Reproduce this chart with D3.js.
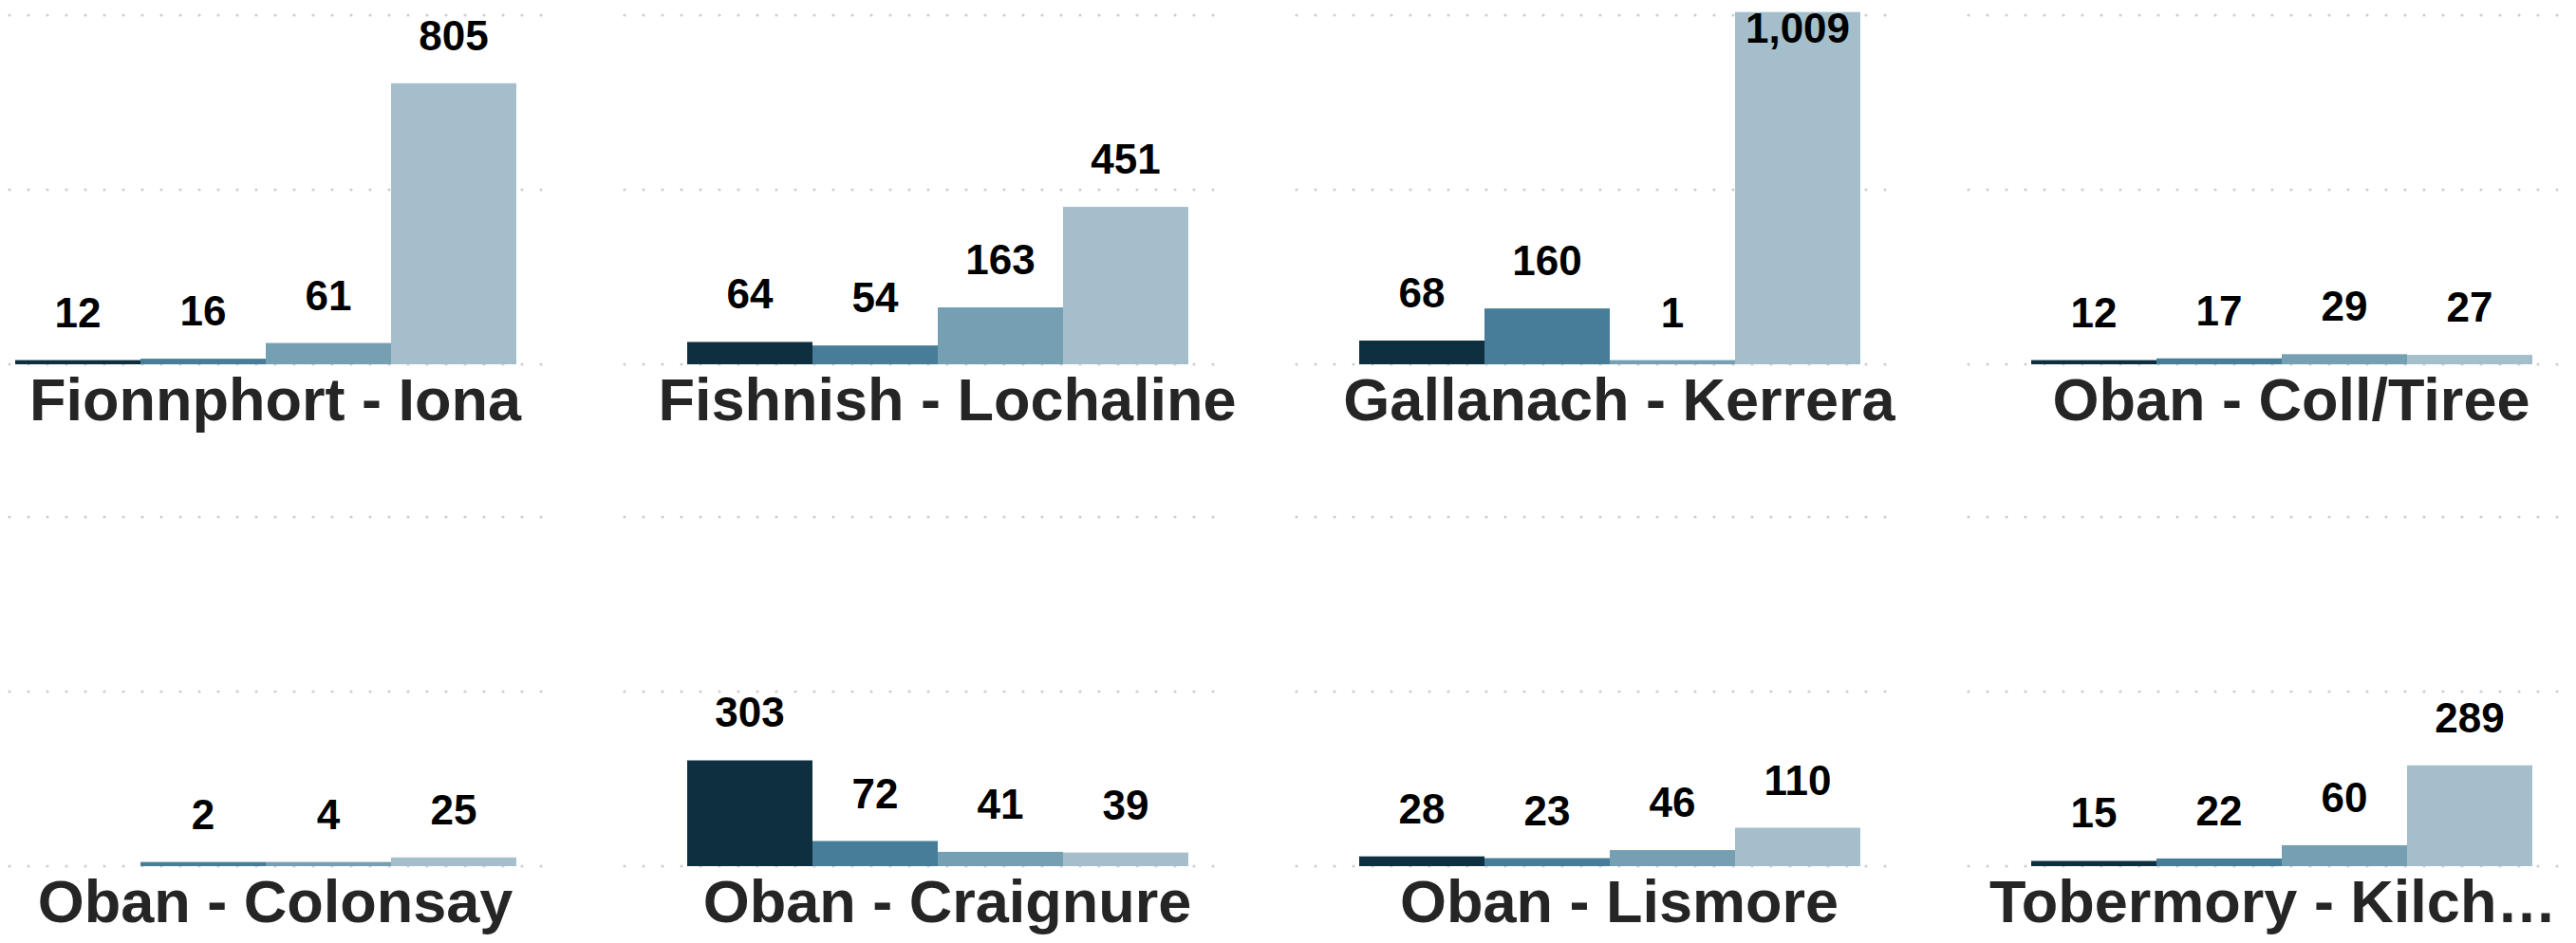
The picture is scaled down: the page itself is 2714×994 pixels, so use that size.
<!DOCTYPE html>
<html>
<head>
<meta charset="utf-8">
<script src="https://cdn.jsdelivr.net/npm/d3@7"></script>
<style>
  html, body { margin: 0; padding: 0; background: #fff; }
  svg { display: block; }
</style>
</head>
<body>
<svg id="chart" width="2714" height="994"></svg>
<script>
// Ferry routes, one small panel each
const routes = [
  "Fionnphort - Iona", "Fishnish - Lochaline", "Gallanach - Kerrera", "Oban - Coll/Tiree",
  "Oban - Colonsay", "Oban - Craignure", "Oban - Lismore", "Tobermory - Kilchoan"
];

// Four series per route (null = no value)
const seriesKeys = ["s1", "s2", "s3", "s4"];
const series1 = [12, 64, 68, 12, null, 303, 28, 15];
const series2 = [16, 54, 160, 17, 2, 72, 23, 22];
const series3 = [61, 163, 1, 29, 4, 41, 46, 60];
const series4 = [805, 451, 1009, 27, 25, 39, 110, 289];

const gridTicks = [0, 500, 1000];
const seriesColors = ["#0e2f40", "#477d99", "#759fb2", "#a4bfcb"];

const allSeries = [series1, series2, series3, series4];

// Layout
const cols = 4;
const panelPitchX = 708, panelOriginX = -50;
const gridWidth = 640;
const barsLeft = 66, barsRight = 594;
const titleBoxLeft = 22, titleBoxWidth = 636, titleMaxWidth = 620;
const rowBaselines = [384, 913];
const plotHeight = 368;
const labelGap = 35;
const minBarHeight = 4.4;
const font = "'Liberation Sans', Arial, Helvetica, sans-serif";

const svg = d3.select("#chart");

const y0 = d3.scaleLinear().domain([0, 1000]).range([plotHeight, 0]);
const x = d3.scaleBand().domain(seriesKeys).range([barsLeft, barsRight]).paddingInner(0).paddingOuter(0);
const fmt = d3.format(",");

routes.forEach((route, i) => {
  const col = i % cols, row = Math.floor(i / cols);
  const px = panelOriginX + col * panelPitchX;
  const baseline = rowBaselines[row];
  const top = baseline - plotHeight;

  const g = svg.append("g").attr("transform", `translate(${px},${top})`);

  // dotted horizontal gridlines
  g.append("g").selectAll("line").data(gridTicks).join("line")
    .attr("x1", 0).attr("x2", gridWidth)
    .attr("y1", d => y0(d)).attr("y2", d => y0(d))
    .attr("stroke", "#cfcfcf")
    .attr("stroke-width", 3.2)
    .attr("stroke-linecap", "round")
    .attr("stroke-dasharray", "0 20");

  const rows = seriesKeys.map((k, j) => ({ key: k, value: allSeries[j][i], color: seriesColors[j] }))
    .filter(d => d.value != null);

  const barTop = d => plotHeight - Math.max(plotHeight - y0(d.value), minBarHeight);

  g.append("g").selectAll("rect").data(rows).join("rect")
    .attr("x", d => x(d.key))
    .attr("width", x.bandwidth())
    .attr("y", barTop)
    .attr("height", d => plotHeight - barTop(d))
    .attr("fill", d => d.color);

  g.append("g").selectAll("text").data(rows).join("text")
    .attr("x", d => x(d.key) + x.bandwidth() / 2)
    .attr("y", d => Math.max(barTop(d) - labelGap, 29))
    .attr("text-anchor", "middle")
    .attr("font-family", font)
    .attr("font-weight", "bold")
    .attr("font-size", 44)
    .attr("fill", "#000")
    .text(d => fmt(d.value));

  // panel title, centred; shortened with an ellipsis when too wide
  const title = g.append("text")
    .attr("y", plotHeight + 59)
    .attr("font-family", font)
    .attr("font-weight", "bold")
    .attr("font-size", 63)
    .attr("fill", "#252525")
    .text(route);
  if (title.node().getComputedTextLength() > titleMaxWidth) {
    let s = route;
    while (s.length > 1) {
      s = s.slice(0, -1);
      title.text(s.trimEnd() + "…");
      if (title.node().getComputedTextLength() <= titleMaxWidth) break;
    }
    title.attr("x", titleBoxLeft).attr("text-anchor", "start");
  } else {
    title.attr("x", titleBoxLeft + titleBoxWidth / 2).attr("text-anchor", "middle");
  }
});
</script>
</body>
</html>
